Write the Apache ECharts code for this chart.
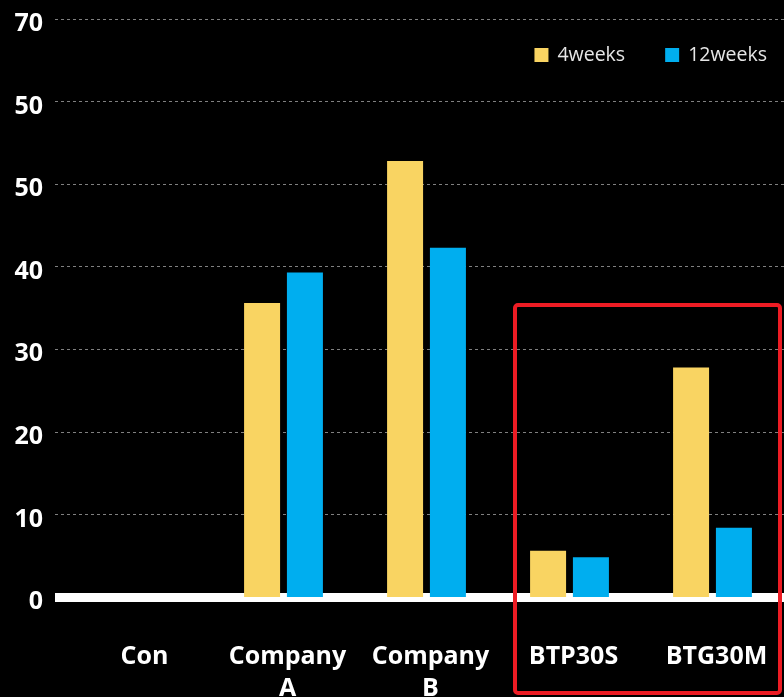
<!DOCTYPE html>
<html>
<head>
<meta charset="utf-8">
<title>4weeks vs 12weeks</title>
<script src="https://cdn.jsdelivr.net/npm/echarts@6/dist/echarts.min.js"></script>
<style>
  html, body { margin: 0; padding: 0; background: #000; }
  #chart { width: 784px; height: 697px; }
</style>
</head>
<body>
<div id="chart"></div>
<script>
// Categories along the x axis
const categories = ['Con', 'Company\nA', 'Company\nB', 'BTP30S', 'BTG30M'];
// Series values
const fourWeeks = [0, 35.6, 52.8, 5.6, 27.8];
const twelveWeeks = [0, 39.3, 42.3, 4.8, 8.4];
// Y axis tick labels, bottom to top
const yTickLabels = ['0', '10', '20', '30', '40', '50', '50', '70'];

const FONT = '"Open Sans", "Noto Sans", sans-serif';
const chart = echarts.init(document.getElementById('chart'), null, { renderer: 'canvas' });

chart.setOption({
  backgroundColor: '#000',
  animation: false,
  textStyle: { fontFamily: FONT },
  legend: {
    right: 12,
    top: 40,
    icon: 'rect',
    itemWidth: 14,
    itemHeight: 14,
    itemGap: 40,
    textStyle: { color: '#e6e6e6', fontSize: 19.5, fontFamily: FONT, padding: [0, 0, 0, 4] },
    data: ['4weeks', '12weeks']
  },
  grid: [
    { left: 55, right: 0, top: 19, bottom: 100, outerBoundsMode: 'none' },
    { left: 69, right: 0, top: 19, bottom: 100, outerBoundsMode: 'none' }
  ],
  xAxis: [
    {
      // thick zero line spanning the full plot width
      gridIndex: 0,
      type: 'category',
      data: [''],
      offset: 4.5,
      axisLine: { show: true, lineStyle: { color: '#fff', width: 9, cap: 'butt' } },
      axisTick: { show: false },
      axisLabel: { show: false }
    },
    {
      gridIndex: 1,
      type: 'category',
      data: categories,
      axisLine: { show: false },
      axisTick: { show: false },
      axisLabel: {
        interval: 0,
        color: '#fff',
        fontSize: 25,
        fontWeight: 'bold',
        fontFamily: FONT,
        lineHeight: 32,
        margin: 44,
        padding: [0, 0, 0, 8]
      }
    }
  ],
  yAxis: [
    {
      gridIndex: 0,
      type: 'value',
      min: 0,
      max: 70,
      interval: 10,
      axisLine: { show: false },
      axisTick: { show: false },
      splitLine: { lineStyle: { color: '#808080', type: [3, 3], width: 1 } },
      axisLabel: {
        margin: 12,
        formatter: v => '{t|' + yTickLabels[Math.round(v / 10)] + '}',
        rich: {
          t: {
            color: '#fff',
            fontSize: 25,
            fontWeight: 'bold',
            fontFamily: FONT,
            padding: [10, 0, 0, 0]
          }
        }
      }
    },
    {
      gridIndex: 1,
      type: 'value',
      min: 0,
      max: 70,
      show: false,
      splitLine: { show: false }
    }
  ],
  series: [
    {
      name: '4weeks',
      type: 'bar',
      xAxisIndex: 1,
      yAxisIndex: 1,
      data: fourWeeks,
      barWidth: 36,
      barGap: '19%',
      itemStyle: { color: '#F9D462' }
    },
    {
      name: '12weeks',
      type: 'bar',
      xAxisIndex: 1,
      yAxisIndex: 1,
      data: twelveWeeks,
      barWidth: 36,
      barGap: '19%',
      itemStyle: { color: '#00AEEF' }
    }
  ],
  graphic: [
    {
      // highlight frame around the last two groups
      type: 'rect',
      z: 100,
      shape: { x: 515, y: 305, width: 265, height: 388, r: 3 },
      style: { fill: 'none', stroke: '#ED1C24', lineWidth: 4 }
    }
  ]
});
</script>
</body>
</html>
